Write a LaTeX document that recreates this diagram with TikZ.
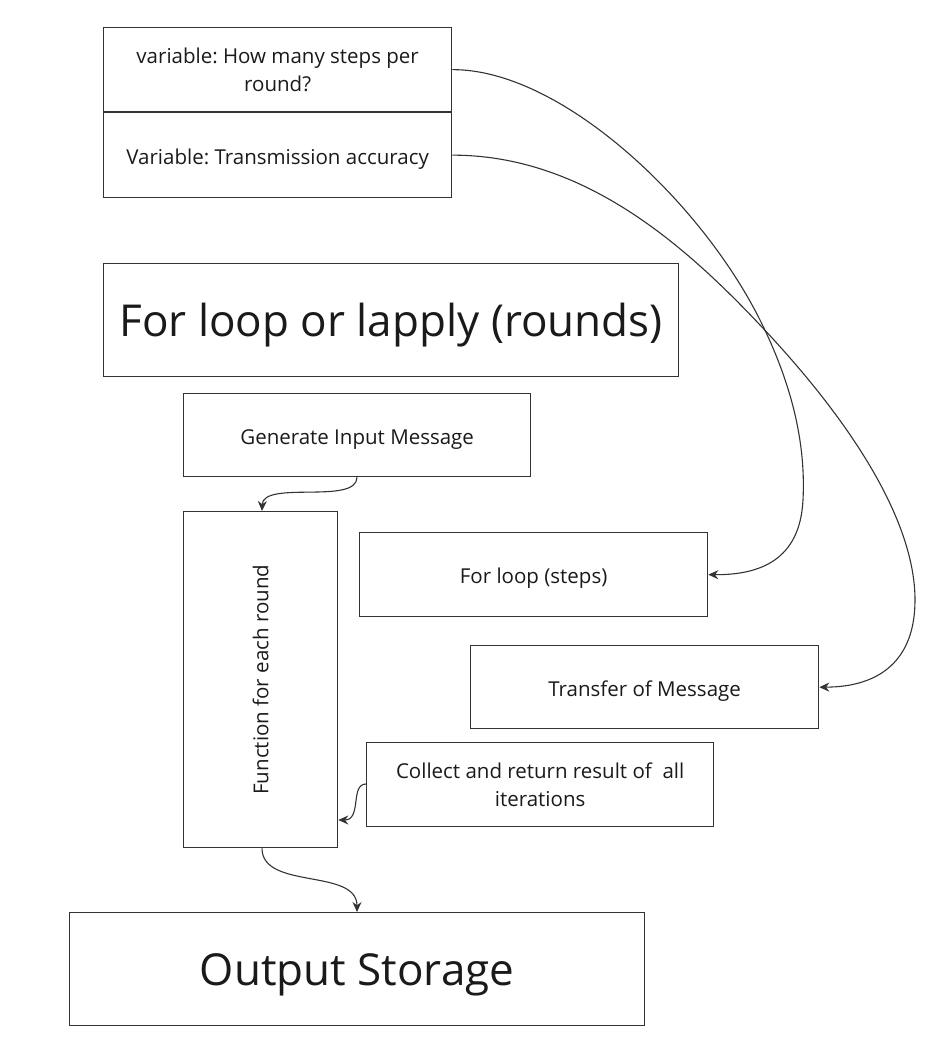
\documentclass[tikz,border=0pt]{standalone}
\usepackage{fontspec}
\setmainfont{Open Sans}
\frenchspacing
\usetikzlibrary{arrows.meta}
\definecolor{ln}{HTML}{333333}
\definecolor{tx}{HTML}{1A1A1A}
\tikzset{
  box/.style={draw=ln, line width=1.3pt, rectangle, anchor=north west, inner sep=0pt, align=center, text=tx, font=\fontsize{20.5}{28}\selectfont},
  oneline/.style={box, text height=18.6pt, text depth=0pt},
  bigbox/.style={box, font=\fontsize{44}{52}\selectfont, text height=33pt, text depth=0pt},
  conn/.style={draw=ln, line width=1.1pt, -{Stealth[length=10pt,width=9pt]}}
}
\begin{document}
\begin{tikzpicture}[x=1pt,y=-1pt]
\useasboundingbox (0,0) rectangle (951,1050);
\node[box, minimum width=348pt, minimum height=84pt] (vsteps) at (103,27) {variable: How many steps per\\round?};
\node[oneline, minimum width=348pt, minimum height=85pt] (vacc) at (103,112) {Variable: Transmission accuracy};
\node[bigbox, minimum width=575pt, minimum height=113pt] (loop) at (103,263) {For loop or lapply (rounds)};
\node[oneline, minimum width=347pt, minimum height=83pt] (gen) at (183,393) {Generate Input Message};
\node[box, minimum width=154pt, minimum height=336pt] (func) at (183,511) {};
\node[rotate=90, text=tx, font=\fontsize{20.5}{28}\selectfont] (funclabel) at (func.center) {Function for each round};
\node[oneline, minimum width=348pt, minimum height=84pt] (steps) at (359,532) {For loop (steps)};
\node[oneline, minimum width=348pt, minimum height=83pt] (transfer) at (470,645) {Transfer of Message};
\node[box, minimum width=347pt, minimum height=84pt] (collect) at (366,742) {Collect and return result of\ \ all\\iterations};
\node[bigbox, minimum width=575pt, minimum height=113pt] (out) at (69,912) {Output Storage};
% connectors
\draw[conn] (vsteps.east) .. controls (560,69) and (700,200) .. (760,320) .. controls (800,400) and (805,460) .. (803,500) .. controls (800,560) and (760,575) .. (steps.east);
\draw[conn] (vacc.east) .. controls (580,155) and (680,240) .. (760,325) .. controls (850,420) and (915,520) .. (915,600) .. controls (915,660) and (880,687) .. (transfer.east);
\draw[conn] (gen.south -| 357,0) .. controls (357,505) and (263,480) .. (func.north -| 262,0);
\draw[conn] (collect.west |- 0,784) .. controls (350,784) and (362,820) .. (func.east |- 0,820);
\draw[conn] (func.south -| 262,0) .. controls (262,890) and (357,868) .. (out.north -| 357,0);
\end{tikzpicture}
\end{document}
